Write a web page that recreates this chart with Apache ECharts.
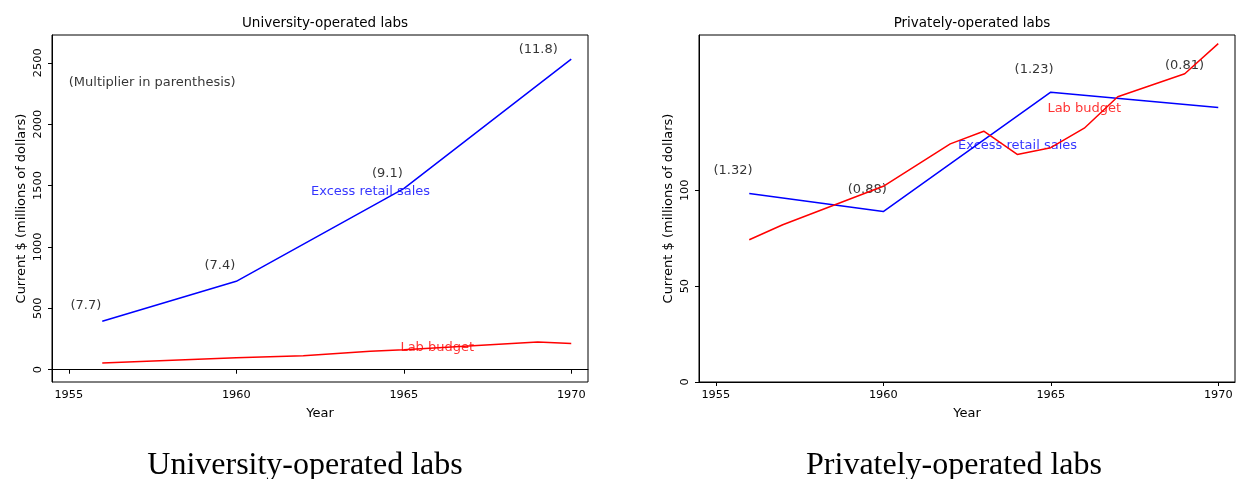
<!DOCTYPE html>
<html>
<head>
<meta charset="utf-8">
<script src="https://cdn.jsdelivr.net/npm/echarts@6/dist/echarts.min.js"></script>
<style>
  html, body { margin: 0; padding: 0; background: #fff; }
  #main { width: 1238px; height: 479px; }
</style>
</head>
<body>
<div id="main"></div>
<script>
// left panel: university-operated labs
const uniSalesYears = [1956, 1960, 1965, 1970];
const uniSalesValues = [394, 720, 1475, 2530];
const uniBudgetYears = [1956, 1960, 1962, 1964, 1965, 1969, 1970];
const uniBudgetValues = [54, 98, 114, 150, 163, 225, 214];
const uniYTicks = [0, 500, 1000, 1500, 2000, 2500];

// right panel: privately-operated labs
const privSalesYears = [1956, 1960, 1965, 1970];
const privSalesValues = [98.3, 88.9, 151.2, 143.2];
const privBudgetYears = [1956, 1957, 1960, 1962, 1963, 1964, 1965, 1966, 1967, 1969, 1970];
const privBudgetValues = [74.2, 82, 102.1, 124.2, 130.8, 118.7, 122.2, 132.4, 148.8, 160.8, 176.5];
const privYTicks = [0, 50, 100];

const yearTicks = [1955, 1960, 1965, 1970];

// annotation texts (x, y in data units, left/baseline anchored)
const uniNotes = [
  [1955.0, 2310, '(Multiplier in parenthesis)', '#000'],
  [1955.05, 494, '(7.7)', '#000'],
  [1959.05, 820, '(7.4)', '#000'],
  [1964.05, 1570, '(9.1)', '#000'],
  [1968.43, 2576, '(11.8)', '#000'],
  [1962.23, 1421, 'Excess retail sales', '#0000ff'],
  [1964.9, 149, 'Lab budget', '#ff0000']
];
const privNotes = [
  [1954.93, 108.2, '(1.32)', '#000'],
  [1958.94, 98.6, '(0.88)', '#000'],
  [1963.92, 161, '(1.23)', '#000'],
  [1968.41, 163.1, '(0.81)', '#000'],
  [1962.23, 121.3, 'Excess retail sales', '#0000ff'],
  [1964.9, 141, 'Lab budget', '#ff0000']
];

const FONT = 'DejaVu Sans';

function pairs(xs, ys) {
  return xs.map((x, i) => [x, ys[i]]);
}

function xAxisFor(idx) {
  return {
    type: 'value', gridIndex: idx, min: 1954.5, max: 1970.5,
    name: 'Year', nameLocation: 'middle', nameGap: 25,
    nameTextStyle: { fontFamily: FONT, fontSize: 13, color: '#000' },
    axisLine: { show: true, lineStyle: { color: '#000', width: 1 } },
    axisTick: { show: true, length: 4, customValues: yearTicks, lineStyle: { color: '#000' } },
    axisLabel: { customValues: yearTicks, margin: 8, formatter: v => String(v),
      fontFamily: FONT, fontSize: 11.3, color: '#000' },
    splitLine: { show: false }
  };
}

function yAxisFor(idx, min, max, ticks) {
  return {
    type: 'value', gridIndex: idx, min: min, max: max,
    name: 'Current $ (millions of dollars)', nameLocation: 'middle', nameGap: 24,
    nameTextStyle: { fontFamily: FONT, fontSize: 13, color: '#000' },
    axisLine: { show: true, lineStyle: { color: '#000', width: 1 } },
    axisTick: { show: true, length: 4, customValues: ticks, lineStyle: { color: '#000' } },
    axisLabel: { customValues: ticks, rotate: 90, margin: 8, formatter: v => String(v),
      fontFamily: FONT, fontSize: 11.3, color: '#000' },
    splitLine: { show: false }
  };
}

function lineSeries(idx, xs, ys, color) {
  return {
    type: 'line', xAxisIndex: idx, yAxisIndex: idx,
    data: pairs(xs, ys), showSymbol: false, symbol: 'none',
    lineStyle: { color: color, width: 1.5 }, silent: true
  };
}

function noteSeries(idx, notes) {
  return {
    type: 'scatter', xAxisIndex: idx, yAxisIndex: idx,
    symbolSize: 0, silent: true,
    data: notes.map(n => ({
      value: [n[0], n[1]],
      label: {
        show: true, formatter: n[2], position: [0, 0], align: 'left', verticalAlign: 'bottom',
        offset: [0, 3], fontFamily: FONT, fontSize: 13, color: n[3]
      }
    }))
  };
}

var myChart = echarts.init(document.getElementById('main'));
myChart.setOption({
  animation: false,
  backgroundColor: '#fff',
  title: [
    { text: 'University-operated labs', left: 320, top: 11, textAlign: 'center',
      textStyle: { fontFamily: FONT, fontSize: 13.5, fontWeight: 'normal', color: '#000' } },
    { text: 'Privately-operated labs', left: 967, top: 11, textAlign: 'center',
      textStyle: { fontFamily: FONT, fontSize: 13.5, fontWeight: 'normal', color: '#000' } },
    { text: 'University-operated labs', left: 300, top: 445, textAlign: 'center',
      textStyle: { fontFamily: 'Liberation Serif', fontSize: 32, fontWeight: 'normal', color: '#000' } },
    { text: 'Privately-operated labs', left: 949, top: 445, textAlign: 'center',
      textStyle: { fontFamily: 'Liberation Serif', fontSize: 32, fontWeight: 'normal', color: '#000' } }
  ],
  grid: [
    { left: 52, top: 35, width: 536, height: 347, show: true, borderColor: '#000', borderWidth: 1, backgroundColor: 'transparent' },
    { left: 699, top: 35, width: 536, height: 347, show: true, borderColor: '#000', borderWidth: 1, backgroundColor: 'transparent' }
  ],
  xAxis: [xAxisFor(0), xAxisFor(1)],
  yAxis: [
    yAxisFor(0, -100, 2726, uniYTicks),
    yAxisFor(1, 0, 181, privYTicks)
  ],
  series: [
    lineSeries(0, uniSalesYears, uniSalesValues, '#0000ff'),
    lineSeries(0, uniBudgetYears, uniBudgetValues, '#ff0000'),
    noteSeries(0, uniNotes),
    lineSeries(1, privSalesYears, privSalesValues, '#0000ff'),
    lineSeries(1, privBudgetYears, privBudgetValues, '#ff0000'),
    noteSeries(1, privNotes)
  ]
});
</script>
</body>
</html>
